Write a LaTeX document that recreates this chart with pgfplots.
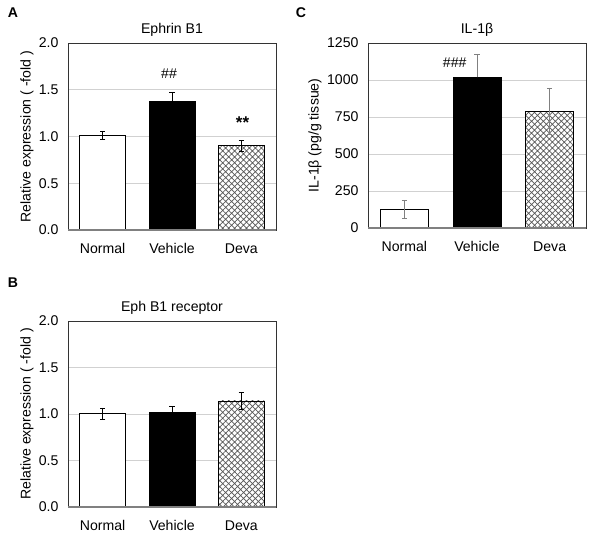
\documentclass[border=0pt]{standalone}
\usepackage{fontspec}
\setmainfont{Liberation Sans}
\usepackage{pgfplots}
\pgfplotsset{compat=1.18}
\usetikzlibrary{patterns.meta}
\newcommand{\fs}{\fontsize{14.1bp}{16bp}\selectfont}
\pgfplotsset{
  panel/.style={
    scale only axis,
    ybar, bar width=0.66, bar shift=0pt,
    xmin=-0.5, xmax=2.5,
    xtick={0,1,2}, xticklabels={Normal,Vehicle,Deva},
    ymin=0,
    major tick length=0pt,
    ymajorgrids, grid style={black!18, line width=0.7bp},
    axis line style={black!80, line width=0.7bp},
    tick label style={font=\fs},
    /pgf/number format/assume math mode=true,
    yticklabel style={xshift=-6bp},
    xticklabel style={yshift=-10bp},
    label style={font=\fs},
    title style={font=\fs, yshift=-3bp},
    clip=false,
    error bars/y dir=both, error bars/y explicit,
    error bars/error bar style={line width=0.7bp, black},
    error bars/error mark options={rotate=90, mark size=2.6bp, line width=0.7bp, black},
  },
  white bar/.style={draw=black, fill=white, line width=0.7bp},
  black bar/.style={draw=black, fill=black, line width=0.7bp},
  hatch bar/.style={draw=black, line width=0.7bp, fill=white,
     postaction={pattern={Hatch[angle=45, distance=4.2bp, line width=0.7bp]}, pattern color=black!65}},
}
\begin{document}
\begin{tikzpicture}
\path[use as bounding box] (0,0) rectangle (600bp,540bp);

% Panel A
\begin{axis}[panel, at={(68bp,310bp)}, anchor=south west, width=208bp, height=187bp,
  ymax=2, ytick={0,0.5,...,2.0},
  yticklabel style={/pgf/number format/.cd, fixed, fixed zerofill, precision=1},
  title={Ephrin B1},
  ylabel={Relative expression ( -fold )},
  ylabel style={at={(axis description cs:-0.197,0.5)}, anchor=center, rotate=0}]
\addplot[white bar] coordinates {(0,1.01) +- (0,0.045)};
\addplot[black bar] coordinates {(1,1.38) +- (0,0.09)};
\addplot[hatch bar] coordinates {(2,0.90) +- (0,0.06)};
\draw[black!50, line width=1.6bp] (axis description cs:0,0) -- (axis description cs:1,0);
\node[font=\fs] at (axis cs:0.957,1.674) {\#\#};
\node[font=\fontsize{17bp}{19bp}\selectfont\bfseries] at (axis cs:2.017,1.15) {**};
\end{axis}
\node[font=\fs\bfseries] at (13bp,527bp) {A};

% Panel B
\begin{axis}[panel, at={(68bp,33bp)}, anchor=south west, width=208bp, height=186bp,
  ymax=2, ytick={0,0.5,...,2.0},
  yticklabel style={/pgf/number format/.cd, fixed, fixed zerofill, precision=1},
  title={Eph B1 receptor},
  ylabel={Relative expression ( -fold )},
  ylabel style={at={(axis description cs:-0.197,0.5)}, anchor=center, rotate=0}]
\addplot[white bar] coordinates {(0,1.005) +- (0,0.06)};
\addplot[black bar] coordinates {(1,1.017) +- (0,0.063)};
\addplot[hatch bar] coordinates {(2,1.14) +- (0,0.09)};
\draw[black!50, line width=1.6bp] (axis description cs:0,0) -- (axis description cs:1,0);
\end{axis}
\node[font=\fs\bfseries] at (13bp,257bp) {B};

% Panel C
\begin{axis}[panel, at={(368bp,312bp)}, anchor=south west, width=218bp, height=185bp,
  ymax=1250, ytick={0,250,...,1250},
  yticklabel style={/pgf/number format/.cd, 1000 sep={}},
  title={IL-1β},
  ylabel={IL-1β (pg/g tissue)},
  ylabel style={at={(axis description cs:-0.243,0.5)}, anchor=center, rotate=0},
  error bars/error bar style={line width=0.7bp, black!50},
  error bars/error mark options={rotate=90, mark size=2.6bp, line width=0.7bp, black!50}]
\addplot[white bar] coordinates {(0,126) +- (0,62)};
\addplot[black bar, error bars/y dir=plus] coordinates {(1,1018) +- (0,156)};
\addplot[hatch bar] coordinates {(2,789) +- (0,157)};
\draw[black!50, line width=1.6bp] (axis description cs:0,0) -- (axis description cs:1,0);
\node[font=\fs] at (axis cs:0.693,1116) {\#\#\#};
\end{axis}
\node[font=\fs\bfseries] at (301bp,527bp) {C};
\end{tikzpicture}
\end{document}
